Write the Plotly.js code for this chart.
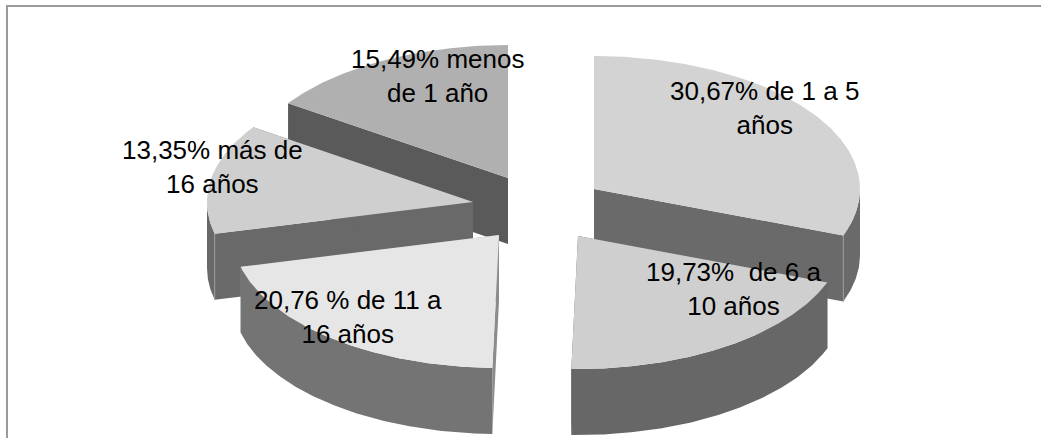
<!DOCTYPE html>
<html>
<head>
<meta charset="utf-8">
<script src="https://cdn.plot.ly/plotly-3.0.1.min.js"></script>
<style>html,body{margin:0;padding:0;background:#fff;overflow:hidden}</style>
</head>
<body>
<div id="chart" style="width:1041px;height:438px"></div>
<script>
// data, clockwise from twelve o'clock
const shares = [30.67, 19.73, 20.76, 13.35, 15.49];
const labels = [
  "30,67% de 1 a 5<br>años",
  "19,73%  de 6 a<br>10 años",
  "20,76 % de 11 a<br>16 años",
  "13,35% más de<br>16 años",
  "15,49% menos<br>de 1 año"
];

// styling and layout
const topColors  = ["#d3d3d3", "#cfcfcf", "#e6e6e6", "#cfcfcf", "#b0b0b0"];
const wallColors = ["#6a6a6a", "#676767", "#747474", "#696969", "#5a5a5a"];
const edgeColors = ["#6a6a6a", "#676767", "#8c8c8c", "#696969", "#5a5a5a"];
const apexX = [594, 578, 499, 473, 508];
const apexY = [189, 236, 235, 202, 178];
const labelX = [764, 733, 348, 212, 437];
const labelY = [108, 289, 317, 167, 76];
const drawOrder = [4, 3, 0, 1, 2];
const RX = 266, RY = 133, DEPTH = 66;

function arc(cx, cy, from, to) {
  const xs = [], ys = [];
  const n = Math.max(1, Math.ceil(Math.abs(to - from) * 2));
  for (let i = 0; i <= n; i++) {
    const a = (from + (to - from) * i / n) * Math.PI / 180;
    xs.push(cx + RX * Math.sin(a));
    ys.push(cy - RY * Math.cos(a));
  }
  return {xs, ys};
}
function poly(xs, ys, color) {
  return {x: xs.concat(xs[0]), y: ys.concat(ys[0]), type: "scatter", mode: "lines",
          fill: "toself", fillcolor: color, line: {width: 0}, hoverinfo: "skip", showlegend: false};
}

const total = shares.reduce((a, b) => a + b, 0);
const starts = [];
shares.reduce((acc, v, i) => { starts[i] = acc; return acc + v / total * 360; }, 0);

const traces = [];
drawOrder.forEach(i => {
  const a0 = starts[i], a1 = a0 + shares[i] / total * 360;
  const cx = apexX[i], cy = apexY[i];
  // radial faces
  [a0, a1].forEach(a => {
    const p = arc(cx, cy, a, a);
    const ex = p.xs[0], ey = p.ys[0];
    traces.push(poly([cx, ex, ex, cx], [cy, ey, ey + DEPTH, cy + DEPTH], edgeColors[i]));
  });
  // rim
  const f = Math.max(a0, 90), t = Math.min(a1, 270);
  if (t > f) {
    const r = arc(cx, cy, f, t);
    const xs = r.xs.concat(r.xs.slice().reverse());
    const ys = r.ys.concat(r.ys.slice().reverse().map(y => y + DEPTH));
    traces.push(poly(xs, ys, wallColors[i]));
  }
  // seam between a radial face and the rim
  [a0, a1].forEach(a => {
    if (a > 92 && a < 268 && (a === a1 ? i === 0 : i === 3)) {
      const p = arc(cx, cy, a, a);
      traces.push({x: [p.xs[0], p.xs[0]], y: [p.ys[0], p.ys[0] + DEPTH], type: "scatter", mode: "lines",
                   line: {color: "#9a9a9a", width: 1}, hoverinfo: "skip", showlegend: false});
    }
  });
  // top surface
  const top = arc(cx, cy, a0, a1);
  traces.push(poly([cx].concat(top.xs), [cy].concat(top.ys), topColors[i]));
});

const layout = {
  width: 1041, height: 438, autosize: false,
  margin: {l: 0, r: 0, t: 0, b: 0},
  paper_bgcolor: "#fff", plot_bgcolor: "#fff",
  showlegend: false,
  xaxis: {range: [0, 1041], visible: false, fixedrange: true},
  yaxis: {range: [438, 0], visible: false, fixedrange: true},
  shapes: [
    {type: "line", x0: 7, x1: 7, y0: 5, y1: 438, line: {color: "#9a9a9a", width: 2}},
    {type: "line", x0: 6, x1: 1041, y0: 6, y1: 6, line: {color: "#9a9a9a", width: 2}}
  ],
  annotations: labels.map((t, i) => ({
    text: t, x: labelX[i], y: labelY[i], xref: "x", yref: "y",
    showarrow: false, align: "center", xanchor: "center", yanchor: "middle",
    font: {family: "Liberation Sans, Arial, sans-serif", size: 26, color: "#000"}
  }))
};
Plotly.newPlot("chart", traces, layout, {staticPlot: true, displayModeBar: false});
</script>
</body>
</html>
